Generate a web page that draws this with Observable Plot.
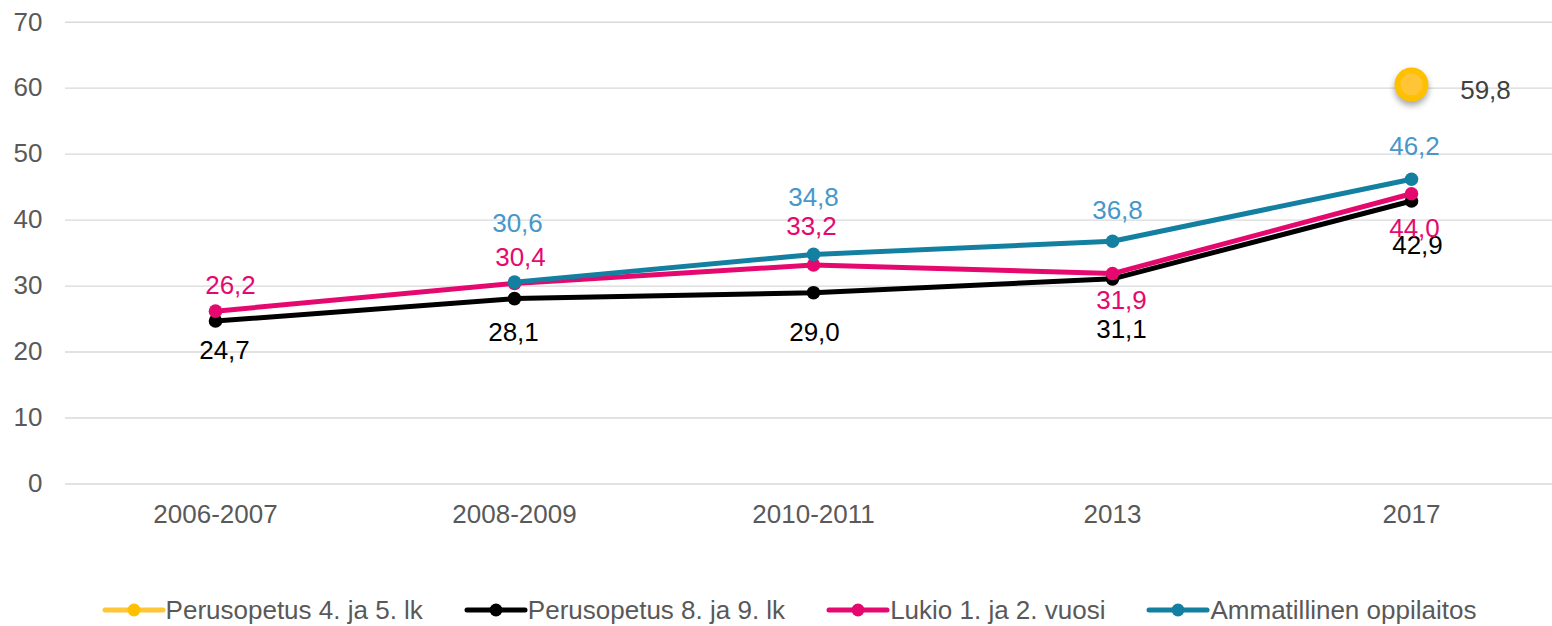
<!DOCTYPE html>
<html>
<head>
<meta charset="utf-8">
<script src="https://cdn.jsdelivr.net/npm/d3@7"></script>
<script src="https://cdn.jsdelivr.net/npm/@observablehq/plot@0.6"></script>
<style>
  body { margin: 0; background: #fff; font-family: "Liberation Sans", Arial, sans-serif; }
  #chart { width: 1552px; height: 560px; }
  #legend { width: 1552px; height: 66px; box-sizing: border-box; padding-top: 36px; padding-left: 26px;
            display: flex; justify-content: center; align-items: flex-start; gap: 41px;
            font-size: 26px; line-height: 28px; color: #595959; }
  .item { display: flex; align-items: center; white-space: nowrap; }
  .item svg { display: block; }
</style>
</head>
<body>
<div id="chart"></div>
<div id="legend"></div>
<script>
const categories = ["2006-2007", "2008-2009", "2010-2011", "2013", "2017"];
const perus45 = [null, null, null, null, 59.8];
const perus89 = [24.7, 28.1, 29.0, 31.1, 42.9];
const lukio   = [26.2, 30.4, 33.2, 31.9, 44.0];
const ammat   = [null, 30.6, 34.8, 36.8, 46.2];
const seriesNames = ["Perusopetus 4. ja 5. lk", "Perusopetus 8. ja 9. lk", "Lukio 1. ja 2. vuosi", "Ammatillinen oppilaitos"];
const yTicks = [0, 10, 20, 30, 40, 50, 60, 70];

// styles
const lineColors  = ["#FFC000", "#000000", "#E5096F", "#1380A1"];
const labelColors = ["#404040", "#000000", "#E5096F", "#4797C9"];
const labelDx = [[0,0,0,0,74], [9,-1,1,9,6], [15,6,-2,9,3], [0,3,0,5,3]];
const labelDy = [[0,0,0,0,1], [30,34,40,51,45], [-25,-26,-38,27,35], [0,-58,-57,-31,-33]];

const allSeries = [perus45, perus89, lukio, ammat];
const fmt = v => d3.format(".1f")(v).replace(".", ",");

const marks = [
  Plot.gridY(yTicks, {stroke: "#D9D9D9", strokeOpacity: 1, strokeWidth: 1.4}),
  Plot.axisY(yTicks, {tickSize: 0, tickPadding: 23, fontSize: 26, fill: "#595959", tickFormat: d => d}),
  Plot.axisX({tickSize: 0, tickPadding: 21, fontSize: 26, fill: "#595959"})
];

allSeries.forEach((vals, s) => {
  const rows = categories.map((c, i) => ({cat: c, v: vals[i], i})).filter(d => d.v != null);
  if (s === 0) {
    marks.push(Plot.dot(rows, {x: "cat", y: "v", r: 17, fill: "#FFC000", dy: -5}));
    marks.push(Plot.dot(rows, {x: "cat", y: "v", r: 11, fill: "#FFC537", dy: -5}));
  } else {
    marks.push(Plot.line(rows, {x: "cat", y: "v", stroke: lineColors[s], strokeWidth: 5, strokeLinejoin: "round", strokeLinecap: "round"}));
    marks.push(Plot.dot(rows, {x: "cat", y: "v", r: 6.8, fill: lineColors[s]}));
  }
});
allSeries.forEach((vals, s) => {
  categories.forEach((c, i) => {
    if (vals[i] == null) return;
    marks.push(Plot.text([{cat: c, v: vals[i]}], {
      x: "cat", y: "v", text: d => fmt(d.v), dx: labelDx[s][i], dy: labelDy[s][i],
      fill: labelColors[s], fontSize: 26
    }));
  });
});

const plot = Plot.plot({
  width: 1552, height: 560,
  marginTop: 21.7, marginBottom: 76.5, marginLeft: 65, marginRight: 0,
  style: {fontFamily: "Liberation Sans, Arial, sans-serif", background: "#fff", overflow: "visible"},
  x: {type: "point", domain: categories, range: [65, 1560.5], padding: 0.5, label: null},
  y: {domain: [0, 70], label: null},
  marks
});
document.getElementById("chart").appendChild(plot);

// drop shadow for the yellow marker
d3.select(plot).selectAll("circle").filter(function() {
  return (this.getAttribute("fill") || "").toUpperCase() === "#FFC000" ||
         (this.parentNode.getAttribute("fill") || "").toUpperCase() === "#FFC000";
}).style("filter", "drop-shadow(0px 4px 3px rgba(0,0,0,0.35))");

// legend
const legend = d3.select("#legend");
seriesNames.forEach((name, s) => {
  const item = legend.append("div").attr("class", "item");
  const sw = item.append("svg").attr("width", 64).attr("height", 20);
  sw.append("line").attr("x1", 3).attr("x2", 61).attr("y1", 10).attr("y2", 10)
    .attr("stroke", s === 0 ? "#FFC637" : lineColors[s]).attr("stroke-width", 5).attr("stroke-linecap", "round");
  sw.append("circle").attr("cx", 32).attr("cy", 10).attr("r", 6.5).attr("fill", lineColors[s]);
  item.append("span").text(name);
});
</script>
</body>
</html>
